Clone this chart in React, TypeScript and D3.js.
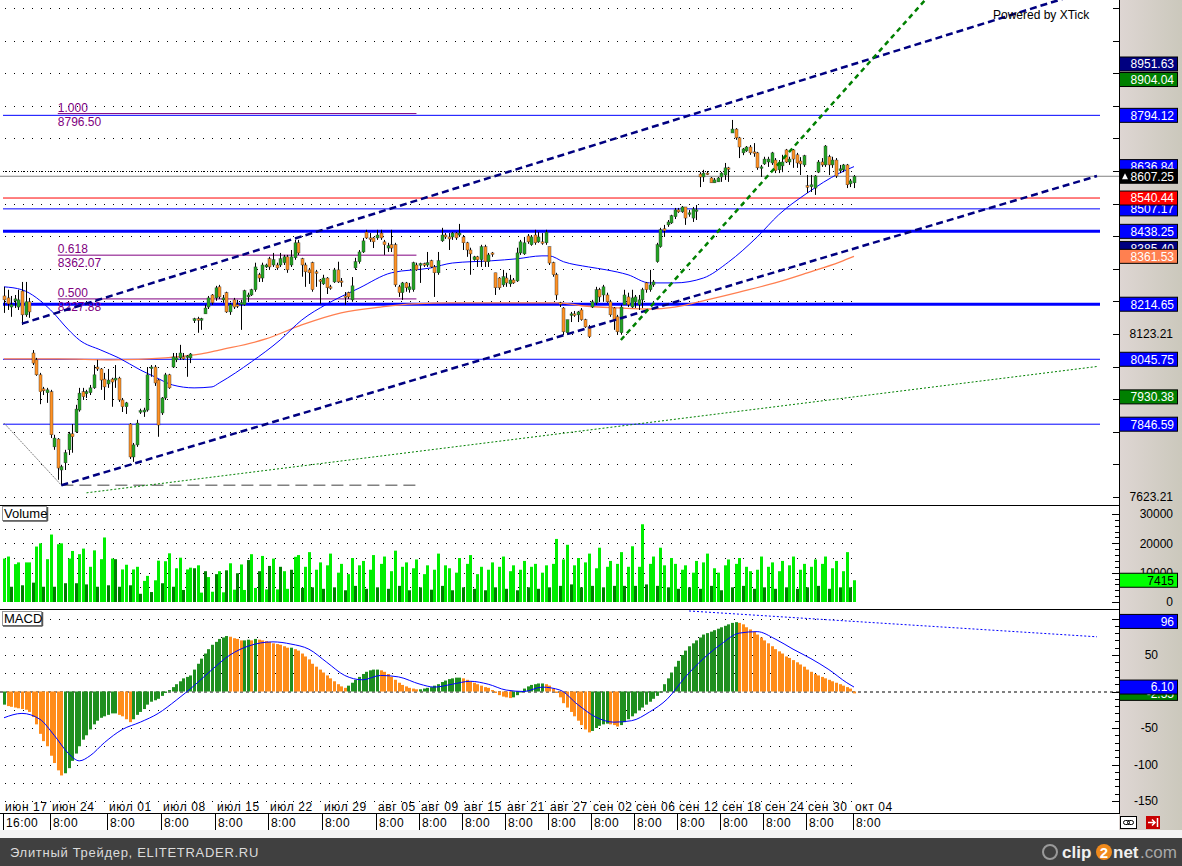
import React, { useEffect, useRef } from 'react';
import * as d3 from 'd3';

// price bars: [open, high, low, close]
const ohlc: [number, number, number, number][] = [
  [8240, 8268, 8188, 8228], [8234, 8259, 8197, 8216], [8206, 8240, 8176, 8213], [8225, 8243, 8203, 8231],
  [8206, 8259, 8197, 8228], [8255, 8283, 8151, 8182], [8182, 8283, 8176, 8222], [8222, 8234, 8173, 8191],
  [8065, 8074, 8028, 8034], [8044, 8050, 7995, 7998], [7998, 8004, 7908, 7946], [7955, 7961, 7936, 7949],
  [7943, 7958, 7912, 7952], [7946, 7952, 7804, 7814], [7777, 7814, 7768, 7804], [7801, 7804, 7676, 7712],
  [7706, 7722, 7659, 7716], [7728, 7768, 7706, 7759], [7768, 7823, 7752, 7817], [7817, 7847, 7759, 7808],
  [7823, 7906, 7820, 7893], [7890, 7958, 7885, 7942], [7946, 7958, 7921, 7931], [7940, 7952, 7927, 7946],
  [7943, 7967, 7936, 7958], [7958, 8028, 7955, 7998], [8022, 8044, 8010, 8016], [8016, 8019, 7952, 7982],
  [7985, 8004, 7921, 7961], [7970, 8016, 7958, 7982], [7985, 7989, 7900, 7976], [7982, 8028, 7958, 7988],
  [7988, 7992, 7915, 7921], [7921, 7927, 7884, 7900], [7900, 7915, 7878, 7912], [7847, 7850, 7740, 7746],
  [7746, 7789, 7731, 7783], [7783, 7860, 7777, 7850], [7884, 7894, 7878, 7888], [7884, 7897, 7869, 7890],
  [7890, 8022, 7885, 7998], [8019, 8028, 7992, 8022], [8022, 8028, 7964, 7973], [7982, 7985, 7808, 7844],
  [7881, 7930, 7875, 7927], [7927, 8004, 7921, 7998], [7998, 8001, 7955, 7958], [8022, 8065, 8019, 8053],
  [8044, 8065, 8037, 8050], [8050, 8090, 8044, 8065], [8053, 8065, 8044, 8047], [8053, 8059, 7992, 8056],
  [8050, 8065, 8034, 8062], [8164, 8173, 8157, 8170], [8170, 8176, 8127, 8166], [8166, 8173, 8136, 8170],
  [8185, 8213, 8185, 8203], [8206, 8240, 8200, 8234], [8243, 8246, 8213, 8219], [8234, 8271, 8225, 8265],
  [8268, 8274, 8231, 8237], [8228, 8243, 8219, 8234], [8250, 8253, 8188, 8191], [8191, 8219, 8182, 8213],
  [8228, 8234, 8200, 8206], [8213, 8228, 8203, 8210], [8216, 8228, 8136, 8219], [8213, 8259, 8210, 8256],
  [8237, 8250, 8222, 8243], [8243, 8262, 8240, 8259], [8259, 8342, 8253, 8329], [8305, 8311, 8283, 8295],
  [8295, 8342, 8283, 8335], [8329, 8339, 8326, 8335], [8354, 8360, 8320, 8329], [8335, 8372, 8329, 8351],
  [8335, 8342, 8320, 8326], [8335, 8372, 8329, 8354], [8342, 8366, 8335, 8360], [8360, 8366, 8311, 8320],
  [8335, 8381, 8329, 8360], [8357, 8412, 8351, 8403], [8403, 8412, 8366, 8372], [8354, 8357, 8299, 8335],
  [8335, 8342, 8268, 8314], [8320, 8326, 8277, 8311], [8342, 8345, 8253, 8259], [8314, 8320, 8268, 8311],
  [8289, 8292, 8216, 8286], [8277, 8305, 8274, 8295], [8295, 8298, 8246, 8265], [8268, 8274, 8259, 8265],
  [8283, 8326, 8280, 8320], [8320, 8345, 8280, 8283], [8286, 8295, 8268, 8283], [8240, 8252, 8213, 8237],
  [8250, 8253, 8231, 8237], [8228, 8298, 8222, 8271], [8326, 8357, 8320, 8345], [8345, 8381, 8339, 8375],
  [8375, 8418, 8372, 8409], [8436, 8443, 8415, 8418], [8418, 8433, 8406, 8415], [8418, 8421, 8387, 8406],
  [8418, 8443, 8412, 8427], [8433, 8443, 8412, 8418], [8406, 8412, 8366, 8397], [8387, 8403, 8375, 8394],
  [8397, 8443, 8375, 8387], [8397, 8403, 8268, 8274], [8268, 8274, 8237, 8250], [8250, 8283, 8228, 8280],
  [8280, 8283, 8253, 8265], [8259, 8280, 8250, 8268], [8259, 8345, 8253, 8342], [8335, 8342, 8317, 8320],
  [8335, 8342, 8280, 8339], [8339, 8342, 8329, 8335], [8335, 8375, 8329, 8342], [8348, 8351, 8326, 8329],
  [8329, 8335, 8237, 8311], [8311, 8375, 8305, 8348], [8409, 8449, 8406, 8427], [8427, 8433, 8415, 8421],
  [8421, 8433, 8381, 8415], [8421, 8436, 8412, 8433], [8433, 8436, 8412, 8418], [8427, 8461, 8421, 8433],
  [8421, 8427, 8381, 8403], [8403, 8406, 8360, 8381], [8381, 8388, 8305, 8369], [8351, 8363, 8348, 8360],
  [8360, 8363, 8329, 8351], [8351, 8397, 8329, 8391], [8391, 8397, 8329, 8345], [8345, 8372, 8329, 8366],
  [8372, 8375, 8360, 8369], [8311, 8311, 8243, 8265], [8295, 8298, 8259, 8265], [8274, 8320, 8268, 8299],
  [8295, 8311, 8268, 8280], [8277, 8305, 8268, 8289], [8289, 8295, 8277, 8280], [8286, 8388, 8283, 8372],
  [8372, 8412, 8366, 8406], [8369, 8421, 8366, 8403], [8424, 8430, 8400, 8406], [8397, 8427, 8394, 8421],
  [8427, 8443, 8397, 8403], [8406, 8436, 8403, 8421], [8406, 8433, 8397, 8403], [8403, 8443, 8397, 8436],
  [8391, 8391, 8335, 8341], [8342, 8345, 8299, 8305], [8305, 8311, 8228, 8243], [8219, 8222, 8206, 8216],
  [8203, 8206, 8121, 8130], [8127, 8167, 8121, 8167], [8182, 8191, 8160, 8185], [8185, 8194, 8176, 8182],
  [8182, 8194, 8160, 8191], [8197, 8203, 8164, 8167], [8167, 8170, 8142, 8145], [8145, 8151, 8111, 8115],
  [8206, 8228, 8203, 8222], [8219, 8268, 8213, 8259], [8259, 8265, 8222, 8237], [8243, 8274, 8222, 8268],
  [8243, 8250, 8219, 8222], [8222, 8228, 8176, 8182], [8203, 8206, 8136, 8167], [8176, 8182, 8121, 8130],
  [8127, 8213, 8121, 8206], [8213, 8259, 8213, 8243], [8237, 8250, 8206, 8213], [8206, 8259, 8203, 8234],
  [8222, 8243, 8203, 8237], [8213, 8243, 8197, 8228], [8228, 8265, 8203, 8259], [8280, 8283, 8250, 8259],
  [8259, 8320, 8253, 8274], [8274, 8289, 8268, 8283], [8345, 8403, 8342, 8397], [8391, 8449, 8388, 8443],
  [8446, 8458, 8421, 8440], [8458, 8473, 8452, 8467], [8464, 8489, 8461, 8486], [8483, 8510, 8476, 8504],
  [8504, 8510, 8495, 8498], [8498, 8516, 8495, 8513], [8513, 8513, 8458, 8479], [8492, 8504, 8483, 8495],
  [8479, 8513, 8467, 8507], [8501, 8519, 8473, 8504], [8614, 8620, 8574, 8605], [8605, 8627, 8590, 8617],
  [8617, 8623, 8611, 8614], [8602, 8605, 8587, 8587], [8587, 8602, 8587, 8596], [8590, 8605, 8590, 8602],
  [8605, 8620, 8590, 8617], [8611, 8648, 8596, 8633], [8633, 8636, 8590, 8630], [8740, 8780, 8740, 8752],
  [8752, 8755, 8719, 8725], [8725, 8728, 8663, 8697], [8679, 8694, 8672, 8691], [8685, 8700, 8682, 8697],
  [8697, 8703, 8673, 8679], [8682, 8709, 8667, 8679], [8679, 8682, 8627, 8633], [8633, 8642, 8605, 8636],
  [8645, 8667, 8642, 8660], [8651, 8667, 8636, 8660], [8648, 8682, 8642, 8679], [8657, 8663, 8617, 8624],
  [8627, 8657, 8617, 8648], [8639, 8673, 8620, 8651], [8688, 8691, 8648, 8651], [8651, 8667, 8642, 8660],
  [8688, 8691, 8633, 8660], [8673, 8679, 8633, 8648], [8654, 8666, 8611, 8645], [8642, 8673, 8636, 8670],
  [8578, 8611, 8556, 8574], [8575, 8611, 8559, 8581], [8571, 8611, 8550, 8608], [8620, 8657, 8617, 8651],
  [8651, 8663, 8636, 8642], [8642, 8703, 8636, 8700], [8667, 8673, 8611, 8642], [8642, 8667, 8633, 8657],
  [8657, 8663, 8602, 8608], [8624, 8642, 8617, 8630], [8627, 8645, 8620, 8642], [8642, 8645, 8571, 8581],
  [8584, 8599, 8574, 8593], [8587, 8611, 8571, 8607.25],
];

const volumes = [
  14800, 15500, 5200, 12900, 13500, 5700, 13500, 13500, 6600, 18900, 20000, 5200, 14600, 23000, 5200, 19700,
  20000, 6400, 14800, 17400, 6400, 16300, 18200, 6000, 12000, 17600, 5200, 14600, 22000, 5700, 14800, 14600,
  5200, 11100, 12700, 5700, 11100, 12000, 2800, 7200, 8900, 3400, 7400, 14100, 6400, 13900, 16600, 5200,
  11500, 15100, 4100, 11100, 11700, 11500, 12500, 3200, 10500, 8500, 3500, 9500, 10500, 3300, 10800, 13200,
  4200, 9800, 12800, 4100, 14300, 16300, 4800, 10500, 15700, 4300, 12300, 14800, 4300, 12000, 10500, 4500,
  11000, 15400, 16000, 4800, 12000, 17000, 5000, 11000, 13500, 4500, 12500, 16500, 5000, 10000, 13000, 4000,
  9500, 15000, 5500, 12500, 14000, 4500, 11000, 16000, 5000, 13000, 15500, 4500, 10500, 17500, 5500, 12000,
  13500, 4000, 11500, 14500, 5000, 9500, 12500, 4200, 11000, 16500, 5500, 12500, 11500, 4000, 10000, 15000,
  5000, 13000, 16000, 4500, 9500, 12000, 4000, 11000, 13500, 5000, 12000, 15500, 4500, 10500, 12500, 4000,
  11000, 14000, 5000, 12000, 13000, 4500, 10000, 12500, 5000, 13000, 21500, 5500, 14500, 19500, 6000, 12500,
  15000, 5000, 13500, 16500, 5500, 11500, 18500, 5000, 12000, 14000, 5500, 13000, 17000, 5500, 12000, 19000,
  5500, 12000, 26500, 6000, 13000, 15500, 5500, 18500, 12500, 5000, 15000, 13000, 4500, 11000, 12500, 5000,
  10000, 14000, 4500, 13500, 16500, 5500, 11500, 10000, 4000, 12500, 14500, 5000, 13000, 15000, 5500, 12000,
  10500, 4500, 11000, 15500, 5000, 12000, 13500, 4500, 10500, 14000, 5000, 12500, 15500, 4500, 11000, 13000,
  5000, 12000, 14500, 5500, 13000, 15500, 4500, 11500, 14000, 5000, 10500, 17000, 5000, 7415,
];
const darkVolumeBars = [31];

const macdHist = [
  -18, -20, -21, -22, -23, -24, -25, -28,
  -35, -45, -58, -68, -75, -88, -98, -108, -115, -112,
  -105, -95, -85, -75, -66, -60, -52, -45, -40,
  -36, -34, -32, -30, -30, -32, -34, -38, -42, -38,
  -32, -28, -24, -18, -14, -12, -10, -6, -2,
  2, 6, 10, 14, 18, 20, 22, 30, 38, 45, 52, 58, 64, 68, 72, 74,
  76, 75, 73, 72, 70, 70, 71, 70, 72, 71, 70, 69, 68, 66, 65, 64, 62, 60, 60, 58, 56,
  52, 48, 44, 38, 34, 30, 26, 22, 18, 14, 10, 7, 5,
  8, 12, 16, 20, 24, 27, 29, 30, 30, 29, 27,
  24, 20, 16, 12, 9, 7, 5, 4, 3, 3,
  4, 5, 6, 8, 10,
  13, 15, 17, 18, 19, 19, 18, 16, 14, 12, 10, 8, 6, 5,
  2, -2, -5, -7, -8, -9, -8, -5,
  0, 4, 7, 9, 10, 11, 11, 10, 8,
  4, -2, -8, -16, -22, -28, -34, -40, -46, -52, -56,
  -54, -50, -47, -45, -44, -45, -46, -48, -46,
  -42, -38, -34, -30, -26, -22, -18, -14, -10, -6,
  0, 10, 18, 26, 34, 42, 50, 56, 62, 66, 70, 74, 78,
  80, 82, 84, 86, 88, 90, 92, 94, 95, 94,
  92, 88, 85, 82, 78, 74, 70, 66, 62, 58, 55, 52, 48, 46, 43, 40, 37,
  34, 30, 27, 24, 22, 20, 18, 16, 14, 12, 10, 8, 6, 4, -2.55,
];

// [bar index, value]
const macdSignal: [number, number][] = [
  [0, -36], [5, -30], [10, -38], [14, -60], [18, -85], [21, -95], [24, -88], [28, -70], [33, -52], [38, -42],
  [43, -30], [48, -12], [53, 8], [58, 30], [63, 50], [68, 62], [75, 68], [80, 65], [85, 58], [90, 40], [95, 22],
  [100, 16], [105, 22], [110, 20], [116, 10], [120, 6], [125, 10], [130, 14], [135, 10], [140, 2], [145, 0],
  [150, 6], [155, 2], [160, -18], [165, -35], [170, -42], [175, -40], [180, -28], [185, -10], [190, 20],
  [195, 45], [200, 65], [205, 80], [210, 82], [215, 72], [220, 58], [225, 45], [230, 30], [235, 12], [237, 6.1],
];
const maFast: [number, number][] = [
  [0, 8268], [5, 8259], [13, 8197], [18, 8136], [21, 8105], [27, 8074], [32, 8050], [38, 8013], [42, 7992],
  [47, 7967], [53, 7958], [58, 7961], [60, 7973], [69, 8038], [77, 8105], [83, 8166], [90, 8215], [99, 8264],
  [108, 8311], [119, 8326], [125, 8341], [136, 8348], [143, 8354], [150, 8363], [152, 8363], [156, 8345],
  [163, 8329], [168, 8320], [174, 8305], [180, 8280], [187, 8280], [195, 8295], [202, 8344], [210, 8421],
  [216, 8489], [224, 8556], [233, 8617], [237, 8636.84],
];
const maSlow: [number, number][] = [
  [0, 8047], [15, 8047], [30, 8044], [45, 8050], [55, 8062], [60, 8074], [73, 8108], [83, 8151], [94, 8188],
  [105, 8206], [114, 8216], [125, 8219], [155, 8219], [161, 8210], [172, 8203], [180, 8200], [187, 8206],
  [196, 8228], [205, 8252], [215, 8280], [224, 8311], [233, 8344], [237, 8361.53],
];

const thinBlueLevels = [8794.12, 8507.17, 8045.75, 7846.59];
const thickBlueLevels = [8438.25, 8214.65];
const redLevels = [8540.44];
const fibLow = 7659.25;
const fibHigh = 8796.5;
const fibRatios = [1, 0.618, 0.5];
const fibSpan: [number, number] = [15, 115];

const channelUpper: [number, number][] = [[5, 8155], [237, 8951.63]];
const channelLower: [number, number][] = [[16, 7659.25], [237, 8385.4]];
const steepLine: [number, number][] = [[172, 8105], [237, 8904.04]];
const longLine: [number, number][] = [[23, 7636], [237, 7930.38]];
const grayDiag: [number, number][] = [[0, 7850], [16, 7659.25]];
const macdTrend: [number, number][] = [[191, 110.3], [237, 96]];

const priceTickStart = 7623.21;
const priceLabelValues = [7623.21, 8123.21];
const volumeLabelValues = [0, 10000, 20000, 30000];
const macdLabelValues = [50, -50, -100, -150];

const dateLabels = ['июн 17', 'июн 24', 'июл 01', 'июл 08', 'июл 15', 'июл 22', 'июл 29', 'авг 05', 'авг 09', 'авг 15',
  'авг 21', 'авг 27', 'сен 02', 'сен 06', 'сен 12', 'сен 18', 'сен 24', 'сен 30', 'окт 04'];
const timeLabels = ['16:00', '8:00', '8:00', '8:00', '8:00', '8:00', '8:00', '8:00', '8:00', '8:00',
  '8:00', '8:00', '8:00', '8:00', '8:00', '8:00', '8:00', '8:00', '8:00'];
const dateLabelBars = [0, 13, 29, 44, 59, 74, 89, 104, 116, 128, 140, 152, 164, 176, 188, 200, 212, 224, 237];

const FONT = 'Liberation Sans, Arial, sans-serif';

const App: React.FC = () => {
  const svgRef = useRef<SVGSVGElement | null>(null);

  useEffect(() => {
    if (!svgRef.current) return;
    const svg = d3.select(svgRef.current);
    svg.selectAll('*').remove();

    const n = ohlc.length;
    const axisX = 1119;
    const x = d3.scaleLinear().domain([0, n - 1]).range([4, 854]);
    const yP = d3.scaleLinear().domain([7623.21, 8951.63]).range([497, 64]);
    const yV = d3.scaleLinear().domain([0, 30000]).range([602, 514]);
    const yM = d3.scaleLinear().domain([-150, 50]).range([801, 655]);
    const xEndIdx = x.invert(1097);

    const defs = svg.append('defs');
    const grad = defs.append('linearGradient').attr('id', 'axisbg').attr('x1', 0).attr('x2', 1).attr('y1', 0).attr('y2', 0);
    grad.append('stop').attr('offset', '0%').attr('stop-color', '#ded6d3');
    grad.append('stop').attr('offset', '100%').attr('stop-color', '#cbc8bc');
    const clip = (id: string, y0: number, y1: number) =>
      defs.append('clipPath').attr('id', id).append('rect').attr('x', 0).attr('y', y0).attr('width', axisX).attr('height', y1 - y0);
    clip('cp', 0, 504);
    clip('cv', 506, 608);
    clip('cm', 610, 812);

    svg.append('rect').attr('width', 1182).attr('height', 866).attr('fill', '#fff');
    svg.append('rect').attr('x', axisX).attr('y', 0).attr('width', 1182 - axisX).attr('height', 830).attr('fill', 'url(#axisbg)');
    svg.append('rect').attr('x', 0).attr('y', 830).attr('width', 1182).attr('height', 8).attr('fill', '#f2f2f2');
    svg.append('rect').attr('x', 0).attr('y', 838).attr('width', 1182).attr('height', 28).attr('fill', '#404040');

    const dotRow = (g: any, y: number, x1 = 5, x2 = 857, dash = '1,8') =>
      g.append('line').attr('x1', x1).attr('x2', x2).attr('y1', Math.round(y) + 0.5).attr('y2', Math.round(y) + 0.5)
        .attr('stroke', '#000').attr('stroke-width', 1).attr('stroke-dasharray', dash);

    // ---------- price panel ----------
    const gp = svg.append('g').attr('clip-path', 'url(#cp)');
    const priceTicks = d3.range(0, 16).map((k) => priceTickStart + k * 100);
    priceTicks.forEach((v) => dotRow(gp, yP(v)));
    dotRow(gp, yP(8623.21), 3, 730, '1,2');

    const hline = (v: number, color: string, w: number, x1 = 3, x2 = 1100) =>
      gp.append('line').attr('x1', x1).attr('x2', x2).attr('y1', yP(v)).attr('y2', yP(v))
        .attr('stroke', color).attr('stroke-width', w);
    thinBlueLevels.forEach((v) => hline(v, '#0000ff', 1));
    thickBlueLevels.forEach((v) => hline(v, '#0000ff', 3));
    redLevels.forEach((v) => hline(v, '#ff0000', 1));
    const lastClose = ohlc[n - 1][3];
    hline(lastClose, '#808080', 1, 0, axisX);

    // fib retracement
    fibRatios.forEach((r) => {
      const v = fibLow + r * (fibHigh - fibLow);
      const yy = yP(v);
      gp.append('line').attr('x1', x(fibSpan[0])).attr('x2', x(fibSpan[1])).attr('y1', yy - 1).attr('y2', yy - 1)
        .attr('stroke', '#800080').attr('stroke-width', 1);
      gp.append('text').attr('x', x(fibSpan[0])).attr('y', yy - 3).text(r.toFixed(3))
        .attr('fill', '#800080').attr('font-size', 12).attr('font-family', FONT);
      gp.append('text').attr('x', x(fibSpan[0])).attr('y', yy + 11).text(v.toFixed(2))
        .attr('fill', '#800080').attr('font-size', 12).attr('font-family', FONT);
    });
    gp.append('line').attr('x1', x(16)).attr('x2', x(fibSpan[1])).attr('y1', yP(fibLow)).attr('y2', yP(fibLow))
      .attr('stroke', '#808080').attr('stroke-width', 1.5).attr('stroke-dasharray', '12,6');

    const lineAt = (pts: [number, number][], i: number) => {
      const [[i1, v1], [i2, v2]] = pts;
      return v1 + ((v2 - v1) * (i - i1)) / (i2 - i1);
    };
    const trend = (pts: [number, number][], endIdx: number, color: string, w: number, dash: string) =>
      gp.append('line').attr('x1', x(pts[0][0])).attr('y1', yP(pts[0][1]))
        .attr('x2', x(endIdx)).attr('y2', yP(lineAt(pts, endIdx)))
        .attr('stroke', color).attr('stroke-width', w).attr('stroke-dasharray', dash);
    trend(grayDiag, grayDiag[1][0], '#808080', 1, '2,1');
    trend(longLine, xEndIdx, '#008000', 1, '2,2');

    // moving averages
    const maLine = d3.line<[number, number]>().x((d) => x(d[0])).y((d) => yP(d[1])).curve(d3.curveMonotoneX);
    gp.append('path').attr('d', maLine(maSlow)).attr('fill', 'none').attr('stroke', '#ff7f50').attr('stroke-width', 1.3);
    gp.append('path').attr('d', maLine(maFast)).attr('fill', 'none').attr('stroke', '#0000ff').attr('stroke-width', 1);

    // candles
    const cg = gp.append('g');
    ohlc.forEach(([o, h, l, c], i) => {
      const cx = Math.round(x(i));
      cg.append('line').attr('x1', cx + 0.5).attr('x2', cx + 0.5).attr('y1', yP(h)).attr('y2', yP(l))
        .attr('stroke', '#000').attr('stroke-width', 1);
      const top = yP(Math.max(o, c));
      const bh = Math.max(1.5, Math.abs(yP(o) - yP(c)));
      cg.append('rect').attr('x', cx - 1).attr('y', top).attr('width', 3).attr('height', bh)
        .attr('fill', c >= o ? '#22a322' : '#ff9124').attr('stroke', '#333').attr('stroke-width', 0.4);
    });

    trend(channelUpper, xEndIdx, '#000080', 2.5, '7,4');
    trend(channelLower, xEndIdx, '#000080', 2.5, '7,4');
    trend(steepLine, xEndIdx, '#008000', 2.5, '5,4');

    gp.append('text').attr('x', 993).attr('y', 19).text('Powered by XTick')
      .attr('font-size', 12).attr('font-family', FONT).attr('fill', '#000');

    // ---------- volume panel ----------
    const gv = svg.append('g').attr('clip-path', 'url(#cv)');
    d3.range(5000, 30001, 5000).forEach((v) => dotRow(gv, yV(v)));
    volumes.forEach((v, i) => {
      const cx = Math.round(x(i));
      const dark = i % 3 === 2 || darkVolumeBars.includes(i);
      gv.append('rect').attr('x', cx - 1).attr('y', yV(v)).attr('width', 3).attr('height', yV(0) - yV(v))
        .attr('fill', dark ? '#008000' : '#00ee00');
    });

    // ---------- MACD panel ----------
    const gm = svg.append('g').attr('clip-path', 'url(#cm)');
    [-150, -125, -100, -75, -50, -25, 25, 50, 75, 100].forEach((v) => dotRow(gm, yM(v)));
    gm.append('line').attr('x1', 0).attr('x2', axisX).attr('y1', yM(0) + 0.5).attr('y2', yM(0) + 0.5)
      .attr('stroke', '#000').attr('stroke-width', 1).attr('stroke-dasharray', '3,3');
    macdHist.forEach((v, i) => {
      const cx = Math.round(x(i));
      const up = i === 0 || v >= macdHist[i - 1];
      gm.append('rect').attr('x', cx - 1).attr('y', Math.min(yM(v), yM(0))).attr('width', 3)
        .attr('height', Math.max(1, Math.abs(yM(v) - yM(0))))
        .attr('fill', up ? '#1f8f1f' : '#ff8c1a');
    });
    const sigLine = d3.line<[number, number]>().x((d) => x(d[0])).y((d) => yM(d[1])).curve(d3.curveMonotoneX);
    gm.append('path').attr('d', sigLine(macdSignal)).attr('fill', 'none').attr('stroke', '#0000ff').attr('stroke-width', 1);
    gm.append('line').attr('x1', x(macdTrend[0][0])).attr('y1', yM(macdTrend[0][1]))
      .attr('x2', x(xEndIdx)).attr('y2', yM(lineAt(macdTrend, xEndIdx)))
      .attr('stroke', '#0000ff').attr('stroke-width', 1).attr('stroke-dasharray', '2,2');

    // panel labels
    const panelLabel = (txt: string, y0: number, w: number) => {
      svg.append('rect').attr('x', 2.5).attr('y', y0 + 0.5).attr('width', w).attr('height', 14)
        .attr('fill', '#fff').attr('stroke', '#999');
      svg.append('line').attr('x1', 3).attr('x2', w + 3.5).attr('y1', y0 + 15).attr('y2', y0 + 15).attr('stroke', '#555').attr('stroke-width', 1.5);
      svg.append('line').attr('x1', w + 3.5).attr('x2', w + 3.5).attr('y1', y0 + 1).attr('y2', y0 + 15).attr('stroke', '#555').attr('stroke-width', 1.5);
      svg.append('text').attr('x', 4).attr('y', y0 + 12).text(txt)
        .attr('font-size', 13).attr('font-family', FONT).attr('fill', '#000');
    };
    panelLabel('Volume', 506, 44);
    panelLabel('MACD', 611, 39);

    // separators & axis line
    [505.5, 609.5, 813.5].forEach((yy) =>
      svg.append('line').attr('x1', 0).attr('x2', axisX).attr('y1', yy).attr('y2', yy).attr('stroke', '#000'));
    svg.append('line').attr('x1', axisX + 0.5).attr('x2', axisX + 0.5).attr('y1', 0).attr('y2', 814).attr('stroke', '#000');

    // right axis ticks
    const tick = (yy: number, len: number) =>
      svg.append('line').attr('x1', axisX - len).attr('x2', axisX).attr('y1', Math.round(yy) + 0.5).attr('y2', Math.round(yy) + 0.5)
        .attr('stroke', '#000');
    priceTicks.forEach((v) => { if (yP(v) < 503) tick(yP(v), 6); });
    d3.range(0, 30001, 2000).forEach((v) => tick(yV(v), v % 10000 === 0 ? 7 : 4));
    d3.range(-150, 101, 10).forEach((v) => { if (yM(v) > 612) tick(yM(v), v % 50 === 0 ? 7 : 4); });

    const plain = (txt: string, yy: number, right = 1173) =>
      svg.append('text').attr('x', right).attr('y', yy).attr('dy', '0.36em').attr('text-anchor', 'end').text(txt)
        .attr('font-size', 12).attr('font-family', FONT).attr('fill', '#000');
    priceLabelValues.forEach((v) => plain(v.toFixed(2), yP(v)));
    volumeLabelValues.forEach((v) => plain(String(v), yV(v)));
    macdLabelValues.forEach((v) => plain(String(v), yM(v), 1158));

    const box = (txt: string, yy: number, bg: string, fg = '#fff', marker = false) => {
      svg.append('rect').attr('x', axisX + 0.5).attr('y', yy - 7).attr('width', 58).attr('height', 14)
        .attr('fill', bg).attr('stroke', '#000').attr('stroke-width', 1);
      svg.append('text').attr('x', 1174).attr('y', yy).attr('dy', '0.36em').attr('text-anchor', 'end').text(txt)
        .attr('font-size', 12).attr('font-family', FONT).attr('fill', fg);
      if (marker) {
        svg.append('path').attr('d', `M${axisX + 3},${yy + 3}L${axisX + 9},${yy + 3}L${axisX + 6},${yy - 3}Z`).attr('fill', fg);
      }
    };
    const lastIdx = n - 1;
    box(channelUpper[1][1].toFixed(2), yP(lineAt(channelUpper, lastIdx)), '#000080');
    box(steepLine[1][1].toFixed(2), yP(lineAt(steepLine, lastIdx)), '#008000');
    box(thinBlueLevels[0].toFixed(2), yP(thinBlueLevels[0]), '#0000ff');
    box(maFast[maFast.length - 1][1].toFixed(2), yP(maFast[maFast.length - 1][1]), '#0000ff');
    box(lastClose.toFixed(2), yP(lastClose), '#000', '#fff', true);
    box(thinBlueLevels[1].toFixed(2), yP(thinBlueLevels[1]), '#0000ff');
    box(redLevels[0].toFixed(2), yP(redLevels[0]), '#ff0000');
    box(thickBlueLevels[0].toFixed(2), yP(thickBlueLevels[0]), '#0000ff');
    box(lineAt(channelLower, lastIdx).toFixed(2), yP(lineAt(channelLower, lastIdx)), '#000080');
    box(maSlow[maSlow.length - 1][1].toFixed(2), yP(maSlow[maSlow.length - 1][1]), '#ff8050');
    box(thickBlueLevels[1].toFixed(2), yP(thickBlueLevels[1]), '#0000ff');
    box(thinBlueLevels[2].toFixed(2), yP(thinBlueLevels[2]), '#0000ff');
    box(longLine[1][1].toFixed(2), yP(lineAt(longLine, lastIdx)), '#008000');
    box(thinBlueLevels[3].toFixed(2), yP(thinBlueLevels[3]), '#0000ff');
    box(String(volumes[lastIdx]), yV(volumes[lastIdx]), '#00ff00', '#000');
    box(String(Math.round(lineAt(macdTrend, lastIdx))), yM(lineAt(macdTrend, lastIdx)), '#0000ff');
    box(macdHist[lastIdx].toFixed(2), yM(macdHist[lastIdx]), '#008000');
    box(macdSignal[macdSignal.length - 1][1].toFixed(2), yM(macdSignal[macdSignal.length - 1][1]), '#0000ff');

    // time axis
    dateLabels.forEach((d, k) => {
      const lx = Math.round(x(dateLabelBars[k]));
      svg.append('text').attr('x', lx + 1).attr('y', 811).text(d)
        .attr('font-size', 12).attr('letter-spacing', 0.6).attr('font-family', FONT).attr('fill', '#000');
      svg.append('line').attr('x1', lx - 0.5).attr('x2', lx - 0.5).attr('y1', 814).attr('y2', 830).attr('stroke', '#000');
      svg.append('text').attr('x', lx + 2).attr('y', 827).text(timeLabels[k])
        .attr('font-size', 12).attr('letter-spacing', 0.4).attr('font-family', FONT).attr('fill', '#000');
    });

    // bottom-right icons
    svg.append('rect').attr('x', 1120.5).attr('y', 816.5).attr('width', 16).attr('height', 12).attr('fill', '#fff').attr('stroke', '#000');
    svg.append('rect').attr('x', 1123.5).attr('y', 820.5).attr('width', 6).attr('height', 4).attr('rx', 2).attr('fill', 'none').attr('stroke', '#000');
    svg.append('rect').attr('x', 1127.5).attr('y', 820.5).attr('width', 6).attr('height', 4).attr('rx', 2).attr('fill', 'none').attr('stroke', '#000');
    svg.append('rect').attr('x', 1146).attr('y', 816).attr('width', 14).attr('height', 13).attr('fill', '#c80000');
    svg.append('path').attr('d', 'M1148,822.5H1155M1152,819.5L1155,822.5L1152,825.5M1157.5,818V827')
      .attr('stroke', '#fff').attr('stroke-width', 1.5).attr('fill', 'none');

    // footer
    svg.append('text').attr('x', 10).attr('y', 857).text('Элитный Трейдер, ELITETRADER.RU')
      .attr('font-size', 13).attr('letter-spacing', 0.7).attr('font-family', FONT).attr('fill', '#dcdcdc');
    const logo = svg.append('g').attr('font-family', FONT).attr('font-weight', 'bold').attr('font-size', 17);
    logo.append('circle').attr('cx', 1050).attr('cy', 852).attr('r', 7).attr('fill', 'none').attr('stroke', '#9a9a9a').attr('stroke-width', 2);
    logo.append('text').attr('x', 1062).attr('y', 858).text('clip').attr('fill', '#f0f0f0');
    logo.append('circle').attr('cx', 1104).attr('cy', 852).attr('r', 8).attr('fill', '#f08a1c');
    logo.append('text').attr('x', 1104).attr('y', 858).attr('text-anchor', 'middle').text('2').attr('fill', '#fff').attr('font-size', 15);
    logo.append('text').attr('x', 1113).attr('y', 858).text('net').attr('fill', '#f0f0f0');
    logo.append('text').attr('x', 1140).attr('y', 858).text('.com').attr('fill', '#a8a8a8').attr('font-weight', 'normal');
  }, []);

  return (
    <div style={{ position: 'absolute', left: 0, top: 0 }}>
      <svg ref={svgRef} width={1182} height={866} style={{ display: 'block' }} />
    </div>
  );
};

export default App;
